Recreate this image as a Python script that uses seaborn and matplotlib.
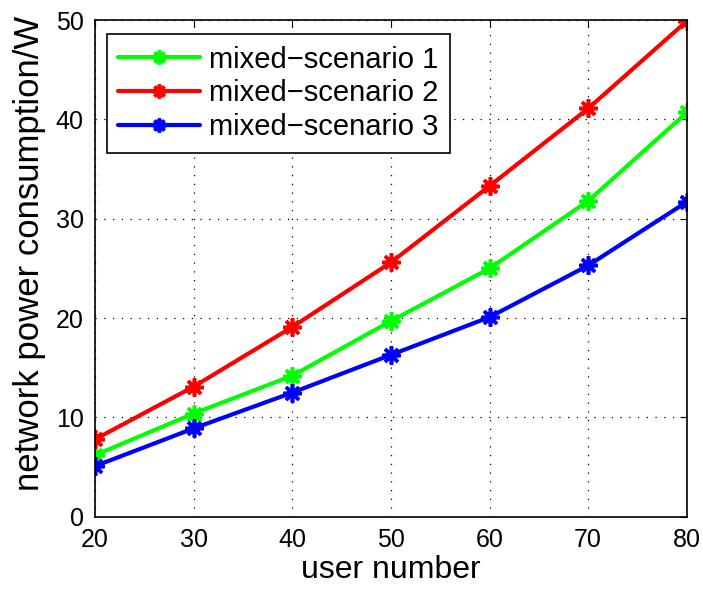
import matplotlib
matplotlib.use("Agg")
import matplotlib.pyplot as plt
import seaborn as sns
import pandas as pd

# Data
users = [20, 30, 40, 50, 60, 70, 80]
scenario_1 = [6.2, 10.4, 14.2, 19.7, 25.0, 31.8, 40.7]
scenario_2 = [7.8, 13.1, 19.1, 25.6, 33.3, 41.1, 49.9]
scenario_3 = [5.1, 8.9, 12.5, 16.3, 20.1, 25.3, 31.7]
series_names = ["mixed\u2212scenario 1", "mixed\u2212scenario 2", "mixed\u2212scenario 3"]
series_colors = ["#00ff00", "#ff0000", "#0000ff"]
x_ticks = [20, 30, 40, 50, 60, 70, 80]
y_ticks = [0, 10, 20, 30, 40, 50]

df = pd.DataFrame({
    "users": users * 3,
    "power": scenario_1 + scenario_2 + scenario_3,
    "series": [series_names[0]] * 7 + [series_names[1]] * 7 + [series_names[2]] * 7,
})

sns.set_style("white")
plt.rcParams["font.family"] = ["Liberation Sans", "DejaVu Sans"]
plt.rcParams["xtick.direction"] = "in"
plt.rcParams["ytick.direction"] = "in"
plt.rcParams["text.color"] = "black"
plt.rcParams["axes.labelcolor"] = "black"
plt.rcParams["xtick.labelcolor"] = "black"
plt.rcParams["ytick.labelcolor"] = "black"

fig = plt.figure(figsize=(7.03, 5.90), dpi=100)
ax = fig.add_axes([0.135, 0.124, 0.842, 0.842])

sns.lineplot(
    data=df, x="users", y="power", hue="series",
    palette=dict(zip(series_names, series_colors)),
    marker=(8, 2, 0), markersize=13, markeredgewidth=2.6,
    linewidth=3.0, ax=ax, legend=True,
)
for line, c in zip(ax.get_lines(), series_colors):
    line.set_markeredgecolor(c)
    line.set_markerfacecolor(c)

ax.set_xlim(20, 80)
ax.set_ylim(0, 50)
ax.set_xticks(x_ticks)
ax.set_yticks(y_ticks)
ax.tick_params(axis="both", labelsize=18, length=5, width=0.8, color="black",
               labelcolor="black", top=True, right=True, pad=8)
ax.grid(True, linestyle=(0, (1, 6)), color="black", linewidth=0.9)
for s in ax.spines.values():
    s.set_color("black")
    s.set_linewidth(1.2)

ax.set_xlabel("user number", fontsize=23, labelpad=2, color="black")
ax.set_ylabel("network power consumption/W", fontsize=25, color="black")
ax.yaxis.set_label_coords(-0.083, 0.53)

leg = ax.legend(loc="upper left", bbox_to_anchor=(0.02, 0.972), fontsize=21,
                frameon=True, fancybox=False, edgecolor="black", framealpha=1,
                handlelength=2.8, handletextpad=0.3, borderpad=0.4,
                labelspacing=0.2, borderaxespad=0)
leg.get_frame().set_linewidth(1.2)
for h, c in zip(leg.get_lines(), series_colors):
    h.set_markeredgecolor(c)
    h.set_markerfacecolor(c)
    h.set_markersize(10)
for t in leg.get_texts():
    t.set_color("black")

fig.savefig("out.png", dpi=100, facecolor="white")
